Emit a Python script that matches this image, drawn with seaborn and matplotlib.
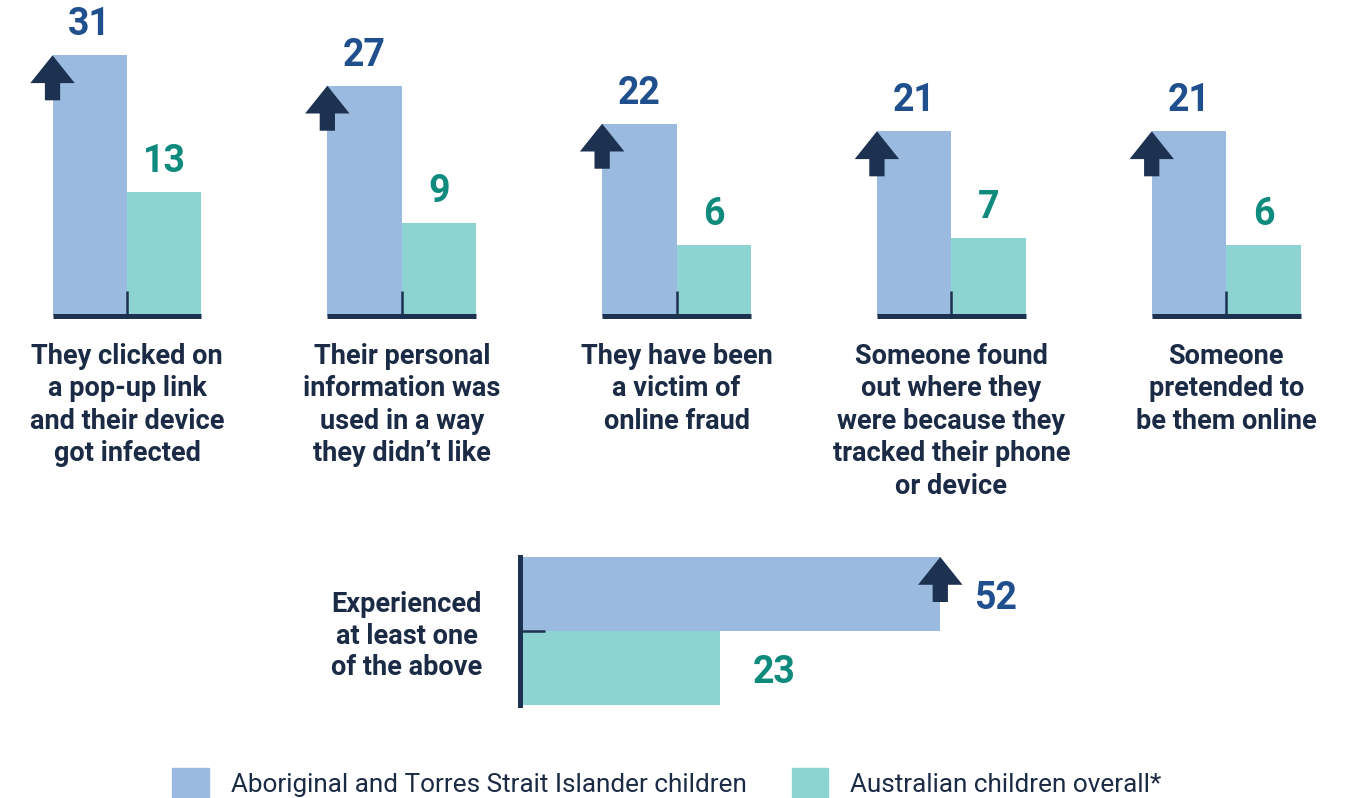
import pandas as pd
import seaborn as sns
import matplotlib.pyplot as plt
from matplotlib.patches import Patch

# data
items = [
    "They clicked on\na pop-up link\nand their device\ngot infected",
    "Their personal\ninformation was\nused in a way\nthey didn\u2019t like",
    "They have been\na victim of\nonline fraud",
    "Someone found\nout where they\nwere because they\ntracked their phone\nor device",
    "Someone\npretended to\nbe them online",
]
indigenous = [31, 27, 22, 21, 21]
overall = [13, 9, 6, 7, 6]
groups = ["Aboriginal and Torres Strait Islander children", "Australian children overall*"]
any_label = "Experienced\nat least one\nof the above"
any_values = [52, 23]

blue = "#9abbdf"
teal = "#8cd3d1"
navy = "#1d3150"
blue_txt = "#1f4f8d"
teal_txt = "#0f8b7d"
txt_col = "#1c2b45"

sns.set_theme(style="white")
plt.rcParams['font.family'] = ['Roboto', 'DejaVu Sans']

df = pd.DataFrame({
    "item": items * 2,
    "group": [groups[0]] * len(items) + [groups[1]] * len(items),
    "pct": indigenous + overall,
})
df_any = pd.DataFrame({"item": [any_label] * 2, "group": groups, "pct": any_values})

W, H = 1361, 798
fig = plt.figure(figsize=(W / 100, H / 100), dpi=100)
px = 7.6      # pixels per point
base = -3.3   # bars start a bit below zero
unit = 274.8  # pixels per group

# top chart
ax = fig.add_axes([0, 1 - 316 / H, 1, 316 / H])
sns.barplot(data=df, x="item", y="pct", hue="group", hue_order=groups,
            palette=[blue, teal], width=0.542, saturation=1, linewidth=0,
            legend=False, ax=ax)
for p in ax.patches:
    p.set_y(base)
    p.set_height(p.get_height() - base)
ax.set_ylim(base, base + 316 / px)
ax.set_xlim(-127 / unit, (W - 127) / unit)
for s in ax.spines.values():
    s.set_visible(False)
ax.set_axisbelow(False)
ax.set_yticks([])
ax.set_xlabel("")
ax.set_ylabel("")
ax.tick_params(axis='x', bottom=True, direction='in', length=18, width=1.8,
               color=navy, labelbottom=False)

for container, vals, col in zip(ax.containers, [indigenous, overall], [blue_txt, teal_txt]):
    for bar, v in zip(container, vals):
        ax.annotate(str(v), xy=(bar.get_x() + bar.get_width() / 2, v),
                    xytext=(0, 22), textcoords='offset points',
                    ha='center', va='center', fontsize=27, fontweight='bold', color=col)

for bar, v in zip(ax.containers[0], indigenous):
    ax.annotate("", xy=(bar.get_x(), v), xytext=(0, -32.4), textcoords='offset points',
                arrowprops=dict(arrowstyle="simple,head_length=2.0,head_width=3.2,tail_width=1.1",
                                mutation_scale=10, color=navy, lw=0, shrinkA=0, shrinkB=0))

for i, lab in enumerate(items):
    left = ax.containers[0][i].get_x()
    right = ax.containers[1][i].get_x() + ax.containers[1][i].get_width()
    ax.hlines(base, left, right, color=navy, lw=3.6, clip_on=False)
    ax.text(i, -0.085, lab, transform=ax.get_xaxis_transform(), ha='center', va='top',
            fontsize=19.5, fontweight='bold', color=txt_col, linespacing=1.26)

# bottom chart
ax2 = fig.add_axes([520 / W, 1 - 705 / H, (W - 520) / W, 148 / H])
sns.barplot(data=df_any, y="item", x="pct", hue="group", hue_order=groups,
            palette=[blue, teal], orient='h', width=0.8, saturation=1, linewidth=0,
            legend=False, ax=ax2)
for p in ax2.patches:
    p.set_x(base)
    p.set_width(p.get_width() - base)
ax2.set_xlim(base, base + (W - 520) / px)
ax2.set_ylim(0.4, -0.4)
for s in ax2.spines.values():
    s.set_visible(False)
ax2.spines['left'].set_visible(True)
ax2.spines['left'].set_color(navy)
ax2.spines['left'].set_linewidth(3.6)
ax2.set_axisbelow(False)
ax2.set_xticks([])
ax2.set_xlabel("")
ax2.set_ylabel("")
ax2.tick_params(axis='y', left=True, direction='in', length=18, width=1.8, color=navy,
                pad=27, labelsize=19.5, labelcolor=txt_col)
for t in ax2.get_yticklabels():
    t.set_fontweight('bold')
    t.set_multialignment('center')
    t.set_linespacing(1.22)

for container, v, col in zip(ax2.containers, any_values, [blue_txt, teal_txt]):
    bar = container[0]
    ax2.annotate(str(v), xy=(v, bar.get_y() + bar.get_height() / 2),
                 xytext=(24, -3), textcoords='offset points',
                 ha='left', va='center', fontsize=27, fontweight='bold', color=col)
bar = ax2.containers[0][0]
ax2.annotate("", xy=(any_values[0], bar.get_y()), xytext=(0, -32.4), textcoords='offset points',
             arrowprops=dict(arrowstyle="simple,head_length=2.0,head_width=3.2,tail_width=1.1",
                             mutation_scale=10, color=navy, lw=0, shrinkA=0, shrinkB=0))

# legend
fig.legend(handles=[Patch(color=blue), Patch(color=teal)], labels=groups,
           loc='center', bbox_to_anchor=(667 / W, 1 - 783 / H), ncol=2, frameon=False,
           fontsize=18.8, labelcolor=txt_col, handlelength=1.4, handleheight=1.4,
           handletextpad=0.85, columnspacing=1.7)

fig.savefig("out.png", dpi=100)
